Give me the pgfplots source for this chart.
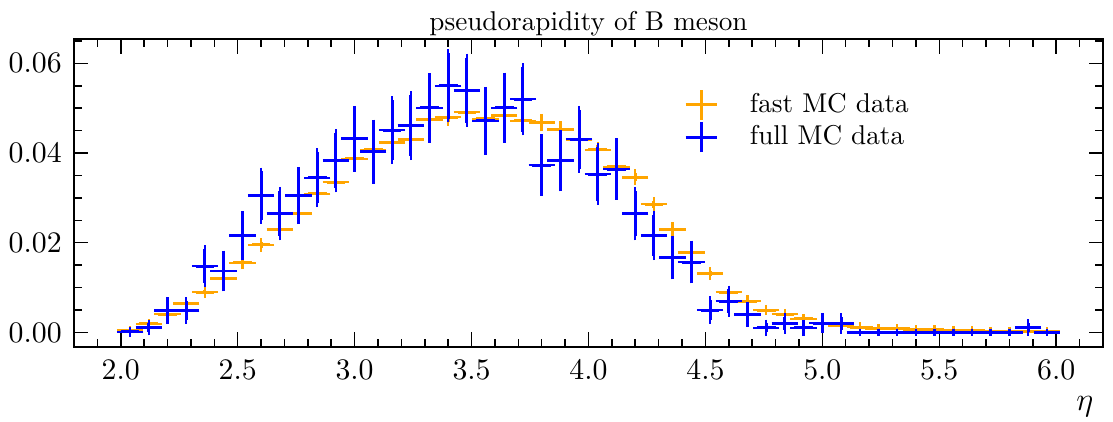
\documentclass[border=0pt]{standalone}
\usepackage{pgfplots}
\pgfplotsset{compat=1.18}
\usepackage{pgfplotstable}
\definecolor{mplorange}{HTML}{FFA500}
\definecolor{mplblue}{HTML}{0000FF}

% fast MC: bin centre, half width, value, error
\pgfplotstableread{
x ex y ey
2.04 0.04 0.0004 0.0001
2.12 0.04 0.0019 0.0002
2.20 0.04 0.0041 0.0003
2.28 0.04 0.0065 0.0004
2.36 0.04 0.0090 0.0005
2.44 0.04 0.0120 0.0005
2.52 0.04 0.0155 0.0006
2.60 0.04 0.0195 0.0007
2.68 0.04 0.0230 0.0007
2.76 0.04 0.0265 0.0008
2.84 0.04 0.0309 0.0009
2.92 0.04 0.0335 0.0009
3.00 0.04 0.0387 0.0010
3.08 0.04 0.0407 0.0010
3.16 0.04 0.0424 0.0010
3.24 0.04 0.0430 0.0010
3.32 0.04 0.0475 0.0011
3.40 0.04 0.0480 0.0011
3.48 0.04 0.0491 0.0011
3.56 0.04 0.0476 0.0011
3.64 0.04 0.0484 0.0011
3.72 0.04 0.0472 0.0011
3.80 0.04 0.0468 0.0011
3.88 0.04 0.0453 0.0010
3.96 0.04 0.0430 0.0010
4.04 0.04 0.0407 0.0010
4.12 0.04 0.0369 0.0010
4.20 0.04 0.0346 0.0009
4.28 0.04 0.0286 0.0008
4.36 0.04 0.0230 0.0007
4.44 0.04 0.0178 0.0007
4.52 0.04 0.0131 0.0006
4.60 0.04 0.0090 0.0005
4.68 0.04 0.0070 0.0004
4.76 0.04 0.0050 0.0003
4.84 0.04 0.0041 0.0003
4.92 0.04 0.0030 0.0003
5.00 0.04 0.0021 0.0002
5.08 0.04 0.0015 0.0002
5.16 0.04 0.0012 0.0002
5.24 0.04 0.0009 0.0001
5.32 0.04 0.0009 0.0001
5.40 0.04 0.0007 0.0001
5.48 0.04 0.0006 0.0001
5.56 0.04 0.0005 0.0001
5.64 0.04 0.0004 0.0001
5.72 0.04 0.0003 0.0001
5.80 0.04 0.0003 0.0001
5.88 0.04 0.0003 0.0001
5.96 0.04 0.0002 0.0001
}\fastmc

% full MC
\pgfplotstableread{
x ex y ey
2.04 0.04 0.0001 0.0003
2.12 0.04 0.0011 0.0009
2.20 0.04 0.0049 0.0021
2.28 0.04 0.0049 0.0021
2.36 0.04 0.0148 0.0038
2.44 0.04 0.0137 0.0037
2.52 0.04 0.0216 0.0046
2.60 0.04 0.0305 0.0054
2.68 0.04 0.0265 0.0051
2.76 0.04 0.0305 0.0055
2.84 0.04 0.0345 0.0057
2.92 0.04 0.0383 0.0062
3.00 0.04 0.0432 0.0065
3.08 0.04 0.0403 0.0063
3.16 0.04 0.0451 0.0067
3.24 0.04 0.0461 0.0068
3.32 0.04 0.0501 0.0069
3.40 0.04 0.0550 0.0073
3.48 0.04 0.0540 0.0073
3.56 0.04 0.0472 0.0067
3.64 0.04 0.0501 0.0070
3.72 0.04 0.0520 0.0072
3.80 0.04 0.0373 0.0060
3.88 0.04 0.0383 0.0060
3.96 0.04 0.0431 0.0066
4.04 0.04 0.0353 0.0060
4.12 0.04 0.0364 0.0060
4.20 0.04 0.0265 0.0051
4.28 0.04 0.0216 0.0046
4.36 0.04 0.0167 0.0040
4.44 0.04 0.0157 0.0039
4.52 0.04 0.0050 0.0022
4.60 0.04 0.0070 0.0026
4.68 0.04 0.0040 0.0019
4.76 0.04 0.0010 0.0010
4.84 0.04 0.0020 0.0014
4.92 0.04 0.0010 0.0010
5.00 0.04 0.0021 0.0014
5.08 0.04 0.0020 0.0014
5.16 0.04 0.0000 0.0000
5.24 0.04 0.0000 0.0000
5.32 0.04 0.0000 0.0000
5.40 0.04 0.0000 0.0000
5.48 0.04 0.0000 0.0000
5.56 0.04 0.0000 0.0000
5.64 0.04 0.0000 0.0000
5.72 0.04 0.0000 0.0000
5.80 0.04 0.0000 0.0000
5.88 0.04 0.0011 0.0010
5.96 0.04 0.0000 0.0000
}\fullmc

\begin{document}
\begin{tikzpicture}
\useasboundingbox (-27.2pt,-27.3pt) rectangle (382pt,127.5pt);
\begin{axis}[
  at={(0,0)}, anchor=south west,
  scale only axis, width=378.3pt, height=113.1pt,
  xmin=1.8, xmax=6.2, ymin=-0.0032, ymax=0.0654,
  xtick={2,2.5,...,6}, minor xtick={1.9,2,...,6.1},
  ytick={0,0.02,0.04,0.06}, minor ytick={0,0.005,...,0.065},
  scaled y ticks=false,
  xticklabel={\pgfmathprintnumber[fixed,fixed zerofill,precision=1]{\tick}},
  yticklabel={\pgfmathprintnumber[fixed,fixed zerofill,precision=2]{\tick}},
  tick label style={font=\fontsize{10.6}{12}\selectfont},
  xticklabel style={yshift=-1.5pt},
  yticklabel style={xshift=-1pt},
  tick align=inside, tick pos=both,
  major tick length=5.3pt, minor tick length=2.8pt,
  tick style={black, line width=0.55pt},
  axis line style={line width=0.55pt},
  title={pseudorapidity of B meson},
  every axis title shift=0pt,
  title style={at={(0.5,1)}, anchor=south, yshift=0pt, inner sep=1pt},
  xlabel={$\eta$},
  xlabel style={at={(rel axis cs:1,0)}, anchor=north east, yshift=-14.7pt, font=\large},
  legend style={draw=none, fill=none, at={(rel axis cs:0.593,0.84)}, anchor=north west,
    inner sep=0pt, outer sep=0pt, row sep=-0.2pt, column sep=10.5pt,
    nodes={inner sep=1pt}, font=\normalsize},
  legend cell align=left,
]
\addplot[draw=none, mark=none,
  legend image code/.code={
    \draw[mplorange, line width=1.1pt] (0pt,0pt) -- (11.6pt,0pt);
    \draw[mplorange, line width=1.1pt] (5.8pt,-5.5pt) -- (5.8pt,5.5pt);},
  error bars/.cd, x dir=both, x explicit, y dir=both, y explicit,
  error mark=-,
  error bar style={draw=mplorange, line width=1.1pt},
  error mark options={draw=mplorange, line width=0.9pt, mark size=1.4pt}]
  table[x=x, y=y, x error=ex, y error=ey] {\fastmc};
\addlegendentry{fast MC data}
\addplot[draw=none, mark=none,
  legend image code/.code={
    \draw[mplblue, line width=1.1pt] (0pt,0pt) -- (11.6pt,0pt);
    \draw[mplblue, line width=1.1pt] (5.8pt,-5.5pt) -- (5.8pt,5.5pt);},
  error bars/.cd, x dir=both, x explicit, y dir=both, y explicit,
  error mark=-,
  error bar style={draw=mplblue, line width=1.1pt},
  error mark options={draw=mplblue, line width=0.9pt, mark size=1.4pt}]
  table[x=x, y=y, x error=ex, y error=ey] {\fullmc};
\addlegendentry{full MC data}
\end{axis}
\end{tikzpicture}
\end{document}
